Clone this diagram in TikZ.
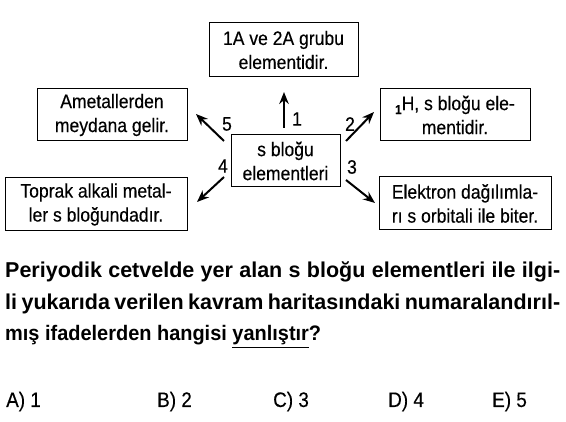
\documentclass[tikz,border=0pt]{standalone}
\usepackage{fontspec}
\setmainfont{Liberation Sans}
\newfontfamily\mycondfont{Liberation Sans}[FakeStretch=0.9,FakeBold=0.3]
\newfontfamily\myqfam{Liberation Sans Bold}
\newfontfamily\myqcondfam{Liberation Sans Bold}[FakeStretch=0.95]
\usetikzlibrary{arrows.meta}
\newcommand\mydiagfont{\mycondfont\fontsize{19.5}{24}\selectfont}
\newcommand\myqfont{\myqfam\fontsize{21.5}{24}\selectfont}
\newcommand\myqcondfont{\myqcondfam\fontsize{21}{24}\selectfont}
\newcommand\myansfont{\mycondfont\fontsize{21}{24}\selectfont}
\begin{document}
\begin{tikzpicture}[x=1pt,y=-1pt,
  conceptbox/.style={draw, line width=1pt, inner sep=0pt, align=center, font=\mydiagfont},
  maparrow/.style={line width=2pt, -{Stealth[length=12pt,width=9.5pt]}},
  numlabel/.style={inner sep=0pt, font=\mydiagfont},
  qline/.style={anchor=base west, inner sep=0pt, font=\myqfont},
  ans/.style={anchor=base west, inner sep=0pt, font=\myansfont}]
\useasboundingbox (0,0) rectangle (566,422);
% boxes
\node[conceptbox, minimum width=149pt, minimum height=54pt] (b1) at (283.5,50) {1A ve 2A grubu\\elementidir.};
\node[conceptbox, minimum width=150pt, minimum height=52pt] (b5) at (112,115) {Ametallerden\\meydana gelir.};
\node[conceptbox, minimum width=150pt, minimum height=52pt] (b2) at (455,115) {{\raisebox{-4pt}{\fontsize{13}{13}\selectfont\bfseries 1}}H, s bloğu ele-\\mentidir.};
\node[conceptbox, minimum width=182pt, minimum height=53pt] (b4) at (96,204.5) {Toprak alkali metal-\\ler s bloğundadır.};
\node[conceptbox, minimum width=172pt, minimum height=53pt] (b3) at (465,203.5) {Elektron dağılımla-\\rı s orbitali ile biter.};
\node[conceptbox, minimum width=109pt, minimum height=52pt] (c) at (285.5,161) {s bloğu\\elementleri};
% arrow end points
\coordinate (s1) at (284,128); \coordinate (e1) at (284,92);
\coordinate (s5) at (224,141); \coordinate (e5) at (196,114);
\coordinate (s2) at (346,141); \coordinate (e2) at (374,112);
\coordinate (s4) at (224,177); \coordinate (e4) at (197,202);
\coordinate (s3) at (346,180); \coordinate (e3) at (375,203);
\draw[maparrow] (s1) -- (e1);
\draw[maparrow] (s5) -- (e5);
\draw[maparrow] (s2) -- (e2);
\draw[maparrow] (s4) -- (e4);
\draw[maparrow] (s3) -- (e3);
% labels
\node[numlabel] (l1) at (297,119) {1};
\node[numlabel] (l5) at (227,124) {5};
\node[numlabel] (l2) at (350,124) {2};
\node[numlabel] (l4) at (223,166) {4};
\node[numlabel] (l3) at (352,167) {3};
% question
\node[qline] (q1) at (5,278) {\makebox[555pt][s]{Periyodik cetvelde yer alan s bloğu elementleri ile ilgi-}};
\node[qline] (q2) at (5,310) {\makebox[555pt][s]{li yukarıda verilen kavram haritasındaki numaralandırıl-}};
\node[qline, font=\myqcondfont] (q3) at (5,341) {mış ifadelerden hangisi \underline{yanlıştır}?};
% answers
\node[ans] (aA) at (6,407) {A) 1};
\node[ans] (aB) at (157,407) {B) 2};
\node[ans] (aC) at (273,407) {C) 3};
\node[ans] (aD) at (388,407) {D) 4};
\node[ans] (aE) at (492,407) {E) 5};
\end{tikzpicture}
\end{document}
